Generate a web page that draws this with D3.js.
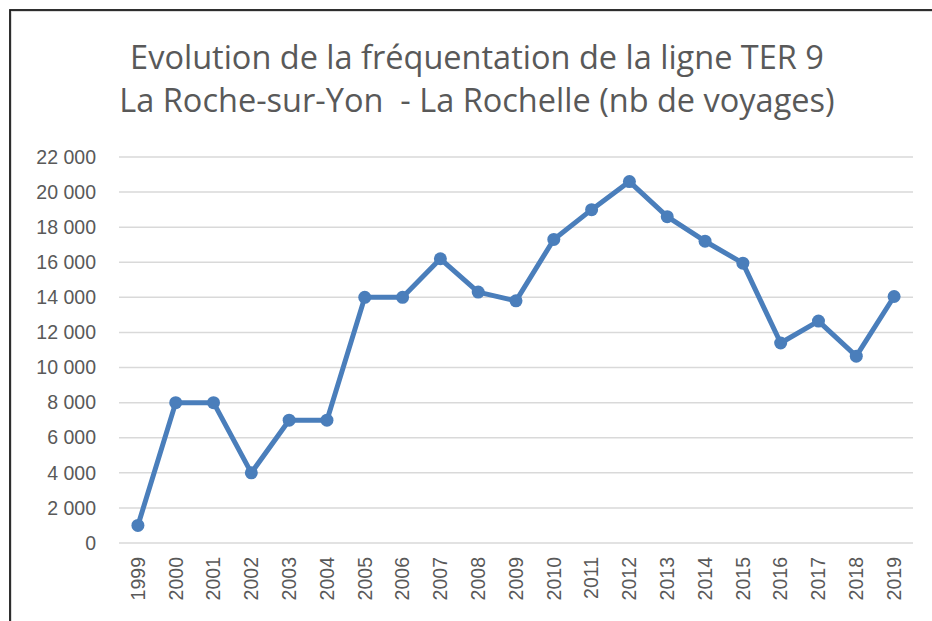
<!DOCTYPE html>
<html>
<head>
<meta charset="utf-8">
<script src="https://d3js.org/d3.v7.min.js"></script>
<style>
  body { margin: 0; background: #fff; }
</style>
</head>
<body>
<svg width="932" height="621"></svg>
<script>
var years = ["1999","2000","2001","2002","2003","2004","2005","2006","2007","2008","2009",
             "2010","2011","2012","2013","2014","2015","2016","2017","2018","2019"];
var voyages = [1000, 8000, 8000, 4000, 7000, 7000, 14000, 14000, 16200, 14300, 13800,
               17300, 19000, 20600, 18600, 17200, 15950, 11400, 12650, 10650, 14050];
var yTicks = [0, 2000, 4000, 6000, 8000, 10000, 12000, 14000, 16000, 18000, 20000, 22000];
var titleLines = ["Evolution de la fréquentation de la ligne TER 9",
                  "La Roche-sur-Yon  - La Rochelle (nb de voyages)"];

var svg = d3.select("svg");

// frame (runs off the right and bottom edge)
svg.append("rect")
  .attr("x", 11).attr("y", 11).attr("width", 940).attr("height", 640)
  .attr("fill", "none").attr("stroke", "#d0d0d0").attr("stroke-width", 1.5);
svg.append("rect")
  .attr("x", 10).attr("y", 10).attr("width", 940).attr("height", 640)
  .attr("fill", "none").attr("stroke", "#1a1a1a").attr("stroke-width", 1.8);

var x = d3.scaleBand().domain(years).range([119, 913]);
var y = d3.scaleLinear().domain([0, 22000]).range([543, 157]);

// gridlines
svg.append("g")
  .selectAll("line")
  .data(yTicks)
  .enter().append("line")
  .attr("x1", 119).attr("x2", 913)
  .attr("y1", function(d) { return y(d); })
  .attr("y2", function(d) { return y(d); })
  .attr("stroke", "#d9d9d9").attr("stroke-width", 1.5);

// y axis labels
var fmt = function(d) { return d3.format(",")(d).replace(/,/g, " "); };
svg.append("g")
  .attr("transform", "translate(96,0)")
  .call(d3.axisLeft(y).tickValues(yTicks).tickSize(0).tickPadding(0).tickFormat(fmt))
  .call(function(g) { g.select(".domain").remove(); })
  .selectAll("text")
  .attr("fill", "#595959")
  .style("font", "19.5px 'Liberation Sans', Arial, sans-serif");

// x axis labels
svg.append("g")
  .attr("transform", "translate(0,557)")
  .call(d3.axisBottom(x).tickSize(0).tickPadding(0))
  .call(function(g) { g.select(".domain").remove(); })
  .selectAll("text")
  .attr("fill", "#595959")
  .style("font", "19.5px 'Liberation Sans', Arial, sans-serif")
  .attr("transform", "rotate(-90)")
  .attr("text-anchor", "end")
  .attr("dy", "0.35em")
  .attr("x", 0).attr("y", 0);

// title
svg.append("g")
  .selectAll("text")
  .data(titleLines)
  .enter().append("text")
  .attr("x", 477)
  .attr("y", function(d, i) { return 69 + i * 43; })
  .attr("text-anchor", "middle")
  .attr("fill", "#595959")
  .style("font", "32.5px 'Open Sans', sans-serif")
  .attr("xml:space", "preserve")
  .style("white-space", "pre")
  .text(function(d) { return d; });

// line + markers
var cx = function(d, i) { return x(years[i]) + x.bandwidth() / 2; };
var line = d3.line().x(cx).y(function(d) { return y(d); });
svg.append("path")
  .datum(voyages)
  .attr("d", line)
  .attr("fill", "none")
  .attr("stroke", "#4a7ebb")
  .attr("stroke-width", 5)
  .attr("stroke-linejoin", "round");
svg.append("g")
  .selectAll("circle")
  .data(voyages)
  .enter().append("circle")
  .attr("cx", cx)
  .attr("cy", function(d) { return y(d); })
  .attr("r", 6.5)
  .attr("fill", "#4a7ebb");
</script>
</body>
</html>
